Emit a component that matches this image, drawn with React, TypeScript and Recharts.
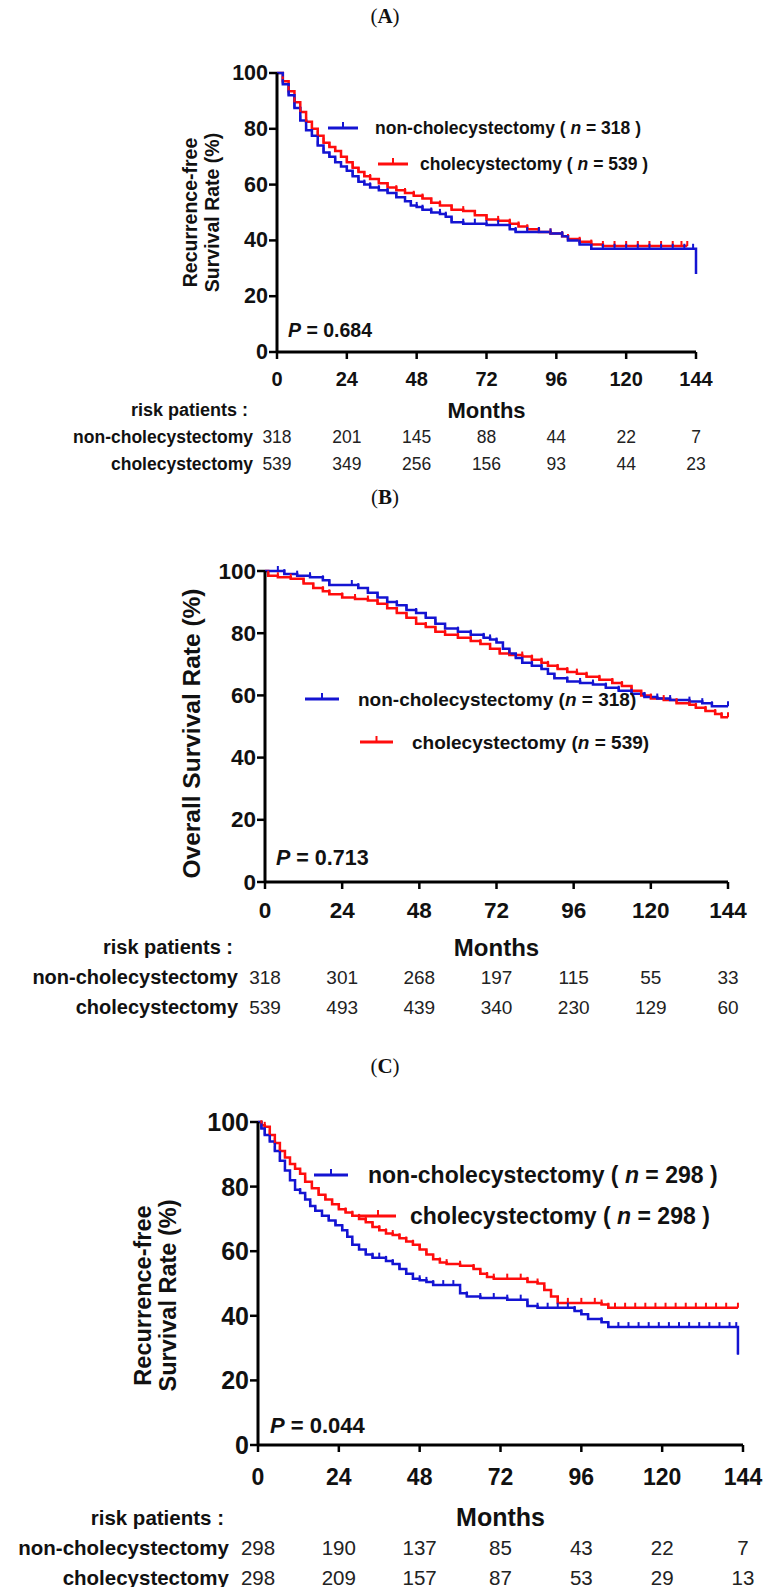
import React from "react"
import { LineChart, Line, XAxis, YAxis, Label } from "recharts"

const SANS = '"Liberation Sans", Arial, Helvetica, sans-serif'
const SERIF = '"Liberation Serif", "Times New Roman", serif'
const BLUE = "#1414d2"
const RED = "#ff0d0d"
const INK = "#111"

const monthTicks = [0, 24, 48, 72, 96, 120, 144]
const rateTicks = [0, 20, 40, 60, 80, 100]

// (A) recurrence-free survival, all patients
const aNonMonths = [0, 2, 4, 6, 8, 10, 12, 14, 16, 18, 20, 22, 24, 26, 28, 30, 32, 35, 38, 41, 44, 46, 48, 50, 53, 56, 58, 60, 64, 68, 72, 76, 80, 82, 86, 90, 94, 98, 100, 104, 108, 112, 116, 120, 124, 128, 132, 136, 140, 143, 144]
const aNonRate = [100, 96, 92, 87.5, 83, 79.5, 77.5, 74, 71.5, 70, 68, 66.5, 65, 63, 61, 60, 59, 58, 57, 55.5, 54, 52.5, 52, 51, 50, 49.5, 48.5, 46.5, 46, 46, 45.5, 45.5, 44, 43, 43, 43, 42.5, 41.5, 40, 38.5, 37, 37, 37, 37, 37, 37, 37, 37, 37, 37, 28]
const aCholMonths = [0, 2, 4, 6, 8, 10, 12, 14, 16, 18, 20, 22, 24, 26, 28, 30, 32, 35, 38, 41, 44, 47, 50, 53, 56, 60, 64, 68, 72, 76, 80, 83, 86, 90, 94, 98, 100, 104, 108, 112, 116, 120, 124, 128, 132, 136, 139, 141]
const aCholRate = [100, 97, 93.5, 89.5, 86, 82.5, 80, 77.5, 75, 73.5, 72, 70, 68, 66, 64.5, 63, 62, 60.5, 59, 58, 57, 56, 55, 53.5, 52.5, 51, 50.5, 49, 47.5, 47, 46, 45, 44, 43, 42.5, 41.5, 40.5, 39.5, 38.5, 38, 38, 38, 38, 38, 38, 38, 38, 38]
const aRiskNon = [318, 201, 145, 88, 44, 22, 7]
const aRiskChol = [539, 349, 256, 156, 93, 44, 23]

// (B) overall survival, all patients
const bNonMonths = [0, 4, 6, 10, 14, 18, 20, 27, 29, 32, 35, 38, 41, 44, 47, 50, 53, 56, 60, 64, 68, 70, 72, 74, 76, 78, 80, 83, 86, 88, 90, 94, 98, 102, 106, 110, 114, 118, 122, 126, 132, 136, 139, 144]
const bNonRate = [100, 100, 99, 98.5, 98, 97, 95.5, 95.5, 94.5, 93, 91.5, 90, 89, 87.5, 86.5, 85, 83, 81.5, 80.5, 79.5, 78.5, 78, 77, 75, 73.5, 72, 70.5, 69.5, 68.5, 67, 65.5, 64.5, 64, 63.5, 62.5, 61.5, 60.5, 59.5, 59, 58.5, 58, 57.5, 56.5, 56.5]
const bCholMonths = [0, 1, 4, 8, 12, 15, 18, 20, 24, 28, 32, 35, 38, 41, 44, 47, 50, 53, 56, 60, 64, 67, 70, 73, 76, 80, 83, 86, 88, 91, 94, 97, 100, 104, 108, 111, 114, 117, 120, 124, 128, 132, 134, 137, 140, 142, 144]
const bCholRate = [100, 98.5, 98, 97.5, 96, 94.5, 93.5, 92.5, 91.5, 91, 90.5, 89.5, 88, 86.5, 85, 83, 82, 80.5, 79.5, 78.5, 77.5, 76.5, 75, 73.5, 73, 72.5, 71.5, 70.5, 69.5, 68.5, 67.5, 67, 66, 65, 64, 63, 61.5, 60, 59, 58.5, 57.5, 57, 56, 55, 54, 53, 53]
const bRiskNon = [318, 301, 268, 197, 115, 55, 33]
const bRiskChol = [539, 493, 439, 340, 230, 129, 60]

// (C) recurrence-free survival, matched patients
const cNonMonths = [0, 1, 2, 3.5, 5, 6.5, 8, 9.5, 11, 12.5, 14, 15.5, 17, 19, 21, 23, 25, 26.5, 28, 30, 32, 34, 36, 38, 40, 42, 44, 46, 48, 50, 52, 55, 58, 60, 62, 66, 70, 74, 78, 80, 83, 86, 89, 92, 94, 96, 98, 102, 104, 107, 110, 113, 116, 119, 122, 125, 128, 131, 134, 137, 140, 142, 142.5]
const cNonRate = [100, 98, 96, 94, 91, 88, 85, 82, 79, 78, 76, 74, 72.5, 71, 69.5, 68, 66.5, 64.5, 62, 60.5, 59, 58, 58, 57, 56, 54.5, 53, 51.5, 51, 50.5, 49.5, 49.5, 49.5, 47, 46, 45.5, 45.5, 45, 45, 43, 42.5, 42.5, 42.5, 42.5, 41.5, 40.5, 39, 38, 36.5, 36.5, 36.5, 36.5, 36.5, 36.5, 36.5, 36.5, 36.5, 36.5, 36.5, 36.5, 36.5, 36.5, 28]
const cCholMonths = [0, 1, 2, 3.5, 5, 6.5, 8, 9.5, 11, 12.5, 14, 16, 18, 20, 22, 24, 26, 28, 30, 32, 34, 36, 38, 40, 42, 44, 46, 48, 50, 52, 54, 56, 60, 64, 66, 68, 70, 74, 78, 80, 83, 85, 87, 89, 92, 96, 100, 102, 104, 106, 109, 112, 115, 118, 121, 124, 127, 130, 133, 136, 139, 142.5]
const cCholRate = [100, 99, 98.5, 96, 93.5, 91, 89, 87, 85.5, 84, 81.5, 79.5, 77.5, 76, 74.5, 73, 72, 71, 70, 69, 67.5, 66.5, 65.5, 65, 64, 63, 62, 60.5, 59, 57.5, 56.5, 56, 55.5, 54.5, 53, 52, 51.5, 51.5, 51.5, 50.5, 50, 48, 46, 44, 44, 44, 44, 43.5, 42.5, 42.5, 42.5, 42.5, 42.5, 42.5, 42.5, 42.5, 42.5, 42.5, 42.5, 42.5, 42.5, 42.5]
const cRiskNon = [298, 190, 137, 85, 43, 22, 7]
const cRiskChol = [298, 209, 157, 87, 53, 29, 13]

const toPoints = (months: number[], rate: number[]) => months.map((m, i) => ({ m, v: rate[i] }))

const censorDot = (color: string) => (p: any) => {
  const { cx, cy, index } = p
  if (!index || cx == null || cy == null) return <g key={`d${index}`} />
  return <line key={`d${index}`} x1={cx} x2={cx} y1={cy} y2={cy - 5} stroke={color} strokeWidth={2} />
}

// month tick label + the two at-risk numbers under it (same x from the axis scale)
const monthTick = (L: any, riskNon: number[], riskChol: number[]) => (p: any) => {
  const i = monthTicks.indexOf(p.payload.value)
  const top = p.y - 9
  return (
    <g>
      <text x={p.x} y={top + L.tickC} textAnchor="middle" dominantBaseline="central"
        fontFamily={SANS} fontSize={L.tickFs} fontWeight="bold" fill={INK}>
        {p.payload.value}
      </text>
      <text x={p.x} y={top + L.row1C} textAnchor="middle" dominantBaseline="central"
        fontFamily={SANS} fontSize={L.numFs} fill="#222">{riskNon[i]}</text>
      <text x={p.x} y={top + L.row2C} textAnchor="middle" dominantBaseline="central"
        fontFamily={SANS} fontSize={L.numFs} fill="#222">{riskChol[i]}</text>
      {i === 0 && (
        <g>
          <text x={p.x - L.rowGap} y={top + L.row1C} textAnchor="end" dominantBaseline="central"
            fontFamily={SANS} fontSize={L.rowFs} fontWeight="bold" fill={INK}>non-cholecystectomy</text>
          <text x={p.x - L.rowGap} y={top + L.row2C} textAnchor="end" dominantBaseline="central"
            fontFamily={SANS} fontSize={L.rowFs} fontWeight="bold" fill={INK}>cholecystectomy</text>
        </g>
      )}
    </g>
  )
}

const yTick = (L: any) => (p: any) => (
  <text x={p.x} y={p.y} textAnchor="end" dominantBaseline="central"
    fontFamily={SANS} fontSize={L.yTickFs} fontWeight="bold" fill={INK}>
    {p.payload.value}
  </text>
)

const caption = (L: any) => (props: any) => {
  const { x, y, width } = props.viewBox
  return (
    <g>
      <text x={x + width / 2} y={y + L.capC} textAnchor="middle" dominantBaseline="central"
        fontFamily={SANS} fontSize={L.monthsFs} fontWeight="bold" fill={INK}>Months</text>
      <text x={x - L.riskGap} y={y + L.capC} textAnchor="end" dominantBaseline="central"
        fontFamily={SANS} fontSize={L.riskFs} fontWeight="bold" fill={INK}>risk patients :</text>
    </g>
  )
}

const yLabel = (L: any) => (props: any) => {
  const { y, height } = props.viewBox
  const cy = y + height / 2 + L.yLabelShift
  return (
    <g>
      {L.yLabel.map((t: string, i: number) => (
        <text key={t} transform={`translate(${L.yLabelX[i]},${cy}) rotate(-90)`} textAnchor="middle"
          fontFamily={SANS} fontSize={L.yLabelFs} fontWeight="bold" fill={INK}>{t}</text>
      ))}
    </g>
  )
}

function Panel({ L, non, chol, riskNon, riskChol }: any) {
  const height = L.mTop + L.plotH + L.axisH + L.mBottom
  const axisLine = { stroke: "#000", strokeWidth: 3 }
  const tickLine = { stroke: "#000", strokeWidth: 2.5 }
  return (
    <div style={{ position: "absolute", left: 0, top: L.top }}>
      <LineChart width={763} height={height}
        margin={{ top: L.mTop, right: L.right, bottom: L.mBottom, left: L.left - 110 }}>
        <XAxis type="number" dataKey="m" domain={[0, 144]} ticks={monthTicks} interval={0}
          height={L.axisH} axisLine={axisLine} tickLine={tickLine} tickSize={7} tickMargin={2}
          tick={monthTick(L, riskNon, riskChol)}>
          <Label content={caption(L)} />
        </XAxis>
        <YAxis type="number" domain={[0, 100]} ticks={rateTicks} interval={0} width={110}
          axisLine={axisLine} tickLine={tickLine} tickSize={8} tickMargin={1} tick={yTick(L)}>
          <Label content={yLabel(L)} />
        </YAxis>
        <Line data={chol} dataKey="v" type="stepAfter" stroke={RED} strokeWidth={2.5}
          dot={censorDot(RED)} activeDot={false} isAnimationActive={false} />
        <Line data={non} dataKey="v" type="stepAfter" stroke={BLUE} strokeWidth={2.5}
          dot={censorDot(BLUE)} activeDot={false} isAnimationActive={false} />
      </LineChart>
    </div>
  )
}

const layoutA = {
  top: 40, left: 277, right: 67, mTop: 33, mBottom: 6, plotH: 279, axisH: 126,
  tickFs: 20, yTickFs: 21.5, tickC: 27, capC: 58, monthsFs: 22, riskFs: 18, riskGap: 29,
  rowFs: 17.5, numFs: 17.5, row1C: 85, row2C: 112, rowGap: 24,
  yLabel: ["Recurrence-free", "Survival Rate (%)"], yLabelFs: 19.5, yLabelX: [197, 219], yLabelShift: 0,
}

const layoutB = {
  top: 540, left: 265, right: 35, mTop: 31, mBottom: 6, plotH: 311, axisH: 142,
  tickFs: 22.5, yTickFs: 22.5, tickC: 28, capC: 65, monthsFs: 24, riskFs: 20, riskGap: 32,
  rowFs: 20, numFs: 19, row1C: 95, row2C: 125, rowGap: 27,
  yLabel: ["Overall Survival Rate (%)"], yLabelFs: 24.5, yLabelX: [200], yLabelShift: 7,
}

const layoutC = {
  top: 1095, left: 258, right: 20, mTop: 27, mBottom: 0, plotH: 323, axisH: 142,
  tickFs: 23, yTickFs: 25, tickC: 32, capC: 72, monthsFs: 25, riskFs: 20.5, riskGap: 34,
  rowFs: 20.5, numFs: 20.5, row1C: 102, row2C: 132, rowGap: 29,
  yLabel: ["Recurrence-free", "Survival Rate (%)"], yLabelFs: 23.5, yLabelX: [151, 176], yLabelShift: 12,
}

function LegendItem({ x1, x2, y, tx, fs, color, label, n, spaced }: any) {
  const mid = (x1 + x2) / 2
  return (
    <g>
      <line x1={x1} x2={x2} y1={y} y2={y} stroke={color} strokeWidth={3} />
      <line x1={mid} x2={mid} y1={y} y2={y - 6} stroke={color} strokeWidth={2} />
      <text x={tx} y={y} dominantBaseline="central" fontFamily={SANS} fontSize={fs} fontWeight="bold" fill={INK}>
        {spaced ? `${label} ( ` : `${label} (`}
        <tspan fontStyle="italic">n</tspan>
        {spaced ? ` = ${n} )` : ` = ${n})`}
      </text>
    </g>
  )
}

function Title({ y, letter }: any) {
  return (
    <text x={385} y={y} textAnchor="middle" dominantBaseline="central" fontFamily={SERIF} fontSize={21} fill={INK}>
      (<tspan fontWeight="bold">{letter}</tspan>)
    </text>
  )
}

function PValue({ x, y, fs, value }: any) {
  return (
    <text x={x} y={y} dominantBaseline="central" fontFamily={SANS} fontSize={fs} fontWeight="bold" fill={INK}>
      <tspan fontStyle="italic">P</tspan>{` = ${value}`}
    </text>
  )
}

export default function App() {
  return (
    <div style={{ position: "absolute", left: 0, top: 0, width: 763, height: 1589, background: "#fff", overflow: "hidden" }}>
      <Panel L={layoutA} non={toPoints(aNonMonths, aNonRate)} chol={toPoints(aCholMonths, aCholRate)}
        riskNon={aRiskNon} riskChol={aRiskChol} />
      <Panel L={layoutB} non={toPoints(bNonMonths, bNonRate)} chol={toPoints(bCholMonths, bCholRate)}
        riskNon={bRiskNon} riskChol={bRiskChol} />
      <Panel L={layoutC} non={toPoints(cNonMonths, cNonRate)} chol={toPoints(cCholMonths, cCholRate)}
        riskNon={cRiskNon} riskChol={cRiskChol} />
      <svg width={763} height={1589} style={{ position: "absolute", left: 0, top: 0, pointerEvents: "none" }}>
        <Title y={16} letter="A" />
        <Title y={497} letter="B" />
        <Title y={1066} letter="C" />

        <LegendItem x1={328} x2={358} y={128} tx={375} fs={17.5} color={BLUE} label="non-cholecystectomy" n={318} spaced />
        <LegendItem x1={378} x2={408} y={164} tx={420} fs={17.5} color={RED} label="cholecystectomy" n={539} spaced />
        <PValue x={288} y={330} fs={19.5} value="0.684" />

        <LegendItem x1={305} x2={339} y={699} tx={358} fs={19} color={BLUE} label="non-cholecystectomy" n={318} />
        <LegendItem x1={360} x2={393} y={742} tx={412} fs={19} color={RED} label="cholecystectomy" n={539} />
        <PValue x={276} y={858} fs={21.5} value="0.713" />

        <LegendItem x1={314} x2={348} y={1175} tx={368} fs={23} color={BLUE} label="non-cholecystectomy" n={298} spaced />
        <LegendItem x1={360} x2={396} y={1216} tx={410} fs={23} color={RED} label="cholecystectomy" n={298} spaced />
        <PValue x={270} y={1425} fs={22} value="0.044" />
      </svg>
    </div>
  )
}
